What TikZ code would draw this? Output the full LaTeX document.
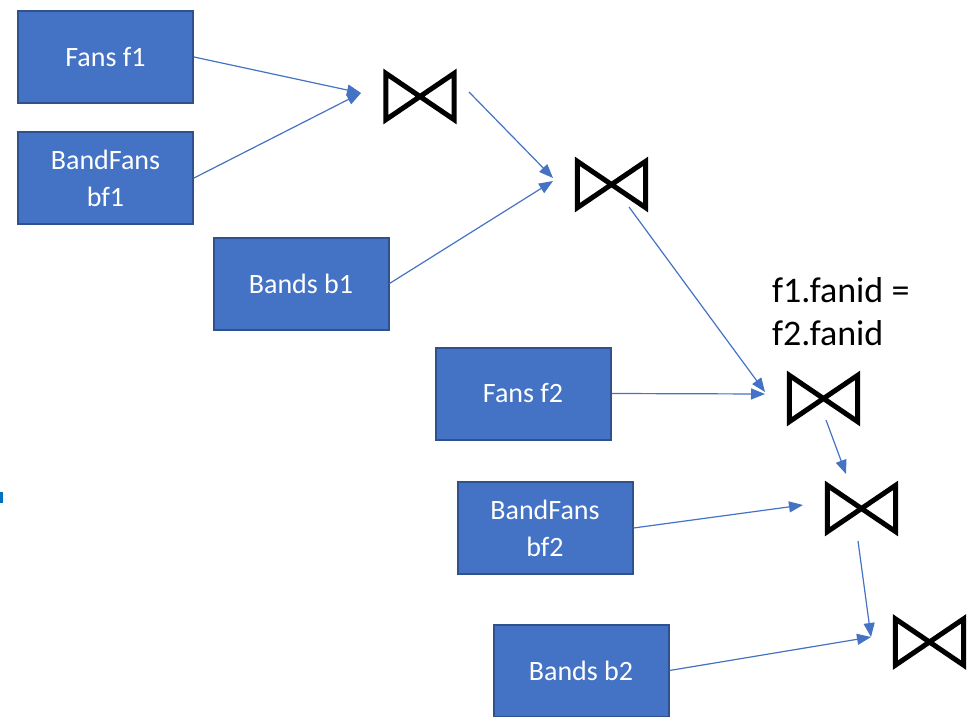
\documentclass[tikz,border=0pt]{standalone}
\usepackage{fontspec}
\setmainfont{Carlito}
\usetikzlibrary{arrows.meta}
\definecolor{boxfill}{HTML}{4472C4}
\definecolor{boxedge}{HTML}{2F528F}
\definecolor{arrowblue}{HTML}{4472C4}
\definecolor{markblue}{HTML}{0070C0}
\tikzset{
  relbox/.style={draw=boxedge, line width=2pt, fill=boxfill, text=white,
    minimum width=175pt, minimum height=92pt, inner sep=0pt, align=center,
    font=\fontsize{28}{37}\selectfont},
  joinop/.style={minimum width=68pt, minimum height=46pt, inner sep=0pt},
  bowtie/.style={draw=black, line width=5pt, line join=miter},
  flow/.style={draw=arrowblue, line width=1.2pt,
    -{Triangle[length=14pt,width=11pt]}},
  cond/.style={inner sep=0pt, anchor=base west, align=left,
    font=\fontsize{36}{43}\selectfont}
}
\begin{document}
\begin{tikzpicture}[x=1pt,y=-1pt]
\useasboundingbox (0,0) rectangle (972,717);

% relations
\node[relbox] (f1)  at (105.5,57)  {Fans f1};
\node[relbox] (bf1) at (105.5,178) {BandFans\\bf1};
\node[relbox] (b1)  at (301,283.5) {Bands b1};
\node[relbox] (f2)  at (523,393.5) {Fans f2};
\node[relbox] (bf2) at (545,528)   {BandFans\\bf2};
\node[relbox] (b2)  at (581,670.5) {Bands b2};

% join operators
\node[joinop] (j1) at (420,96.5)  {};
\node[joinop] (j2) at (611.5,184.5) {};
\node[joinop] (j3) at (823.5,398.5) {};
\node[joinop] (j4) at (861.5,508.5) {};
\node[joinop] (j5) at (929.5,642) {};
\foreach \j in {j1,j2,j3,j4,j5}
  \draw[bowtie] (\j.north west) -- (\j.south east) -- (\j.north east)
    -- (\j.south west) -- cycle;

% join condition (anchored at the baseline of its last line)
\node[cond] (c3) at (772,345) {f1.fanid =\\f2.fanid};

% arrow ends near each operator
\coordinate (j1in)  at ([xshift=-59pt,yshift=3.5pt]j1.center);
\coordinate (j1out) at ([xshift=49pt,yshift=4.5pt]j1.center);
\coordinate (j2in)  at ([xshift=-58.5pt,yshift=3.5pt]j2.center);
\coordinate (j2out) at ([xshift=17.5pt,yshift=-22.5pt]j2.center);
\coordinate (j3in)  at ([xshift=-58.5pt,yshift=4.5pt]j3.center);
\coordinate (j3out) at ([xshift=2.5pt,yshift=-21.5pt]j3.center);
\coordinate (j4top) at ([xshift=-15.5pt,yshift=34.5pt]j4.center);
\coordinate (j4in)  at ([xshift=-58.5pt,yshift=3.5pt]j4.center);
\coordinate (j4out) at ([xshift=-3.5pt,yshift=-32.5pt]j4.center);
\coordinate (j5in)  at ([xshift=-58.5pt,yshift=5pt]j5.center);

% data flow
\draw[flow] (f1.east) -- (j1in);
\draw[flow] (bf1.east) -- (j1in);
\draw[flow] (j1out) -- ([yshift=3pt]j2in);
\draw[flow] (b1.east) -- (j2in);
\draw[flow] (j2out) -- ([yshift=2pt]j3in);
\draw[flow] (f2.east) -- (j3in);
\draw[flow] (j3out) -- (j4top);
\draw[flow] (bf2.east) -- (j4in);
\draw[flow] (j4out) -- (j5in);
\draw[flow] (b2.east) -- (j5in);

% small mark at the left edge
\fill[markblue] (0,492) rectangle (3,503);
\end{tikzpicture}
\end{document}
